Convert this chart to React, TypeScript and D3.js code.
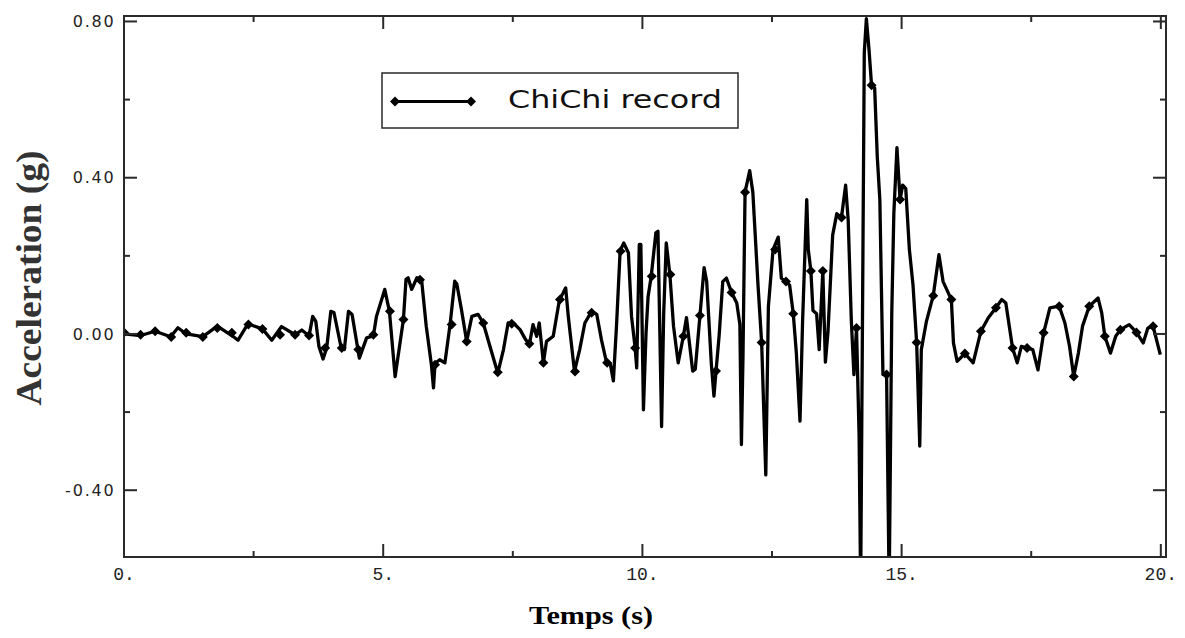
import React from "react";
import * as d3 from "d3";

const timeS = [
  0.0, 0.32, 0.6, 0.9, 1.04, 1.2, 1.52, 1.8, 2.08, 2.2, 2.39, 2.67, 2.85, 3.04, 3.3, 3.43, 3.57, 3.64, 3.7, 3.76,
  3.84, 3.91, 3.99, 4.05, 4.19, 4.25, 4.33, 4.4, 4.54, 4.68, 4.81, 4.87, 5.03, 5.12, 5.23, 5.39, 5.44, 5.48, 5.55,
  5.65, 5.74, 5.83, 5.93, 5.97, 6.0, 6.09, 6.19, 6.29, 6.38, 6.42, 6.51, 6.61, 6.71, 6.83, 6.93, 7.06, 7.21, 7.32,
  7.41, 7.51, 7.64, 7.75, 7.82, 7.89, 7.96, 8.01, 8.09, 8.15, 8.28, 8.4, 8.47, 8.52, 8.57, 8.69, 8.79, 8.89, 9.02,
  9.12, 9.21, 9.31, 9.38, 9.44, 9.5, 9.57, 9.64, 9.73, 9.79, 9.86, 9.89, 9.94, 9.97, 10.02, 10.07, 10.11, 10.17,
  10.26, 10.3, 10.37, 10.41, 10.46, 10.53, 10.6, 10.69, 10.79, 10.85, 10.97, 11.02, 11.11, 11.19, 11.24, 11.33,
  11.38, 11.42, 11.48, 11.55, 11.62, 11.72, 11.82, 11.88, 11.91, 11.94, 11.98, 12.07, 12.13, 12.23, 12.3, 12.38,
  12.43, 12.52, 12.62, 12.68, 12.77, 12.84, 12.91, 12.97, 13.04, 13.09, 13.17, 13.2, 13.25, 13.29, 13.36, 13.41,
  13.48, 13.53, 13.58, 13.67, 13.75, 13.84, 13.92, 13.97, 14.03, 14.08, 14.13, 14.18, 14.21, 14.28, 14.32, 14.37,
  14.42, 14.48, 14.53, 14.58, 14.64, 14.71, 14.76, 14.81, 14.85, 14.91, 14.97, 15.02, 15.08, 15.15, 15.22, 15.29,
  15.35, 15.38, 15.48, 15.61, 15.72, 15.8, 15.96, 16.0, 16.07, 16.22, 16.38, 16.53, 16.67, 16.82, 16.93, 17.01,
  17.14, 17.23, 17.31, 17.42, 17.53, 17.63, 17.74, 17.86, 18.04, 18.15, 18.24, 18.32, 18.41, 18.49, 18.62, 18.79,
  18.86, 18.92, 19.03, 19.13, 19.22, 19.39, 19.53, 19.66, 19.75, 19.85, 19.99,
];

const accelG = [
  0.0, -0.004, 0.007, -0.007, 0.016, 0.0, -0.007, 0.02, -0.004, -0.016, 0.026, 0.013, -0.016, 0.019, -0.002, 0.01,
  -0.005, 0.045, 0.032, -0.032, -0.064, -0.036, 0.058, 0.055, -0.036, -0.04, 0.058, 0.05, -0.062, -0.01, -0.005,
  0.045, 0.114, 0.058, -0.109, 0.037, 0.14, 0.144, 0.114, 0.144, 0.139, 0.02, -0.079, -0.138, -0.075, -0.066,
  -0.074, 0.024, 0.135, 0.128, 0.062, -0.019, 0.045, 0.05, 0.028, -0.032, -0.1, -0.04, 0.028, 0.028, 0.011,
  -0.015, -0.027, 0.024, -0.006, 0.028, -0.074, -0.019, -0.006, 0.088, 0.105, 0.118, 0.045, -0.096, -0.04, 0.028,
  0.058, 0.05, -0.015, -0.074, -0.076, -0.12, 0.02, 0.212, 0.233, 0.208, 0.045, -0.036, -0.087, 0.229, 0.229,
  -0.194, 0.003, 0.096, 0.148, 0.259, 0.263, -0.237, 0.05, 0.233, 0.152, 0.02, -0.074, -0.006, 0.042, -0.095,
  -0.09, 0.047, 0.17, 0.134, -0.077, -0.159, -0.095, -0.004, 0.134, 0.143, 0.106, 0.079, 0.024, -0.283, -0.058,
  0.363, 0.418, 0.363, 0.125, -0.022, -0.361, 0.07, 0.216, 0.248, 0.143, 0.134, 0.125, 0.052, -0.05, -0.223, 0.033,
  0.344, 0.216, 0.161, 0.06, 0.052, -0.04, 0.161, -0.072, 0.006, 0.253, 0.308, 0.298, 0.381, 0.29, 0.034, -0.104,
  0.015, -0.26, -0.65, 0.72, 0.807, 0.73, 0.637, 0.63, 0.455, 0.344, -0.104, -0.104, -0.65, 0.052, 0.308, 0.477,
  0.344, 0.381, 0.372, 0.216, 0.125, -0.022, -0.287, -0.04, 0.033, 0.098, 0.203, 0.134, 0.088, -0.023, -0.07,
  -0.05, -0.074, 0.007, 0.041, 0.067, 0.088, 0.079, -0.036, -0.074, -0.032, -0.036, -0.04, -0.092, 0.003, 0.067,
  0.071, 0.028, -0.032, -0.109, -0.049, 0.02, 0.071, 0.092, 0.054, -0.006, -0.049, -0.006, 0.011, 0.024, 0.004,
  -0.023, 0.015, 0.02, -0.053,
];

const markerT = [
  0.0, 0.32, 0.6, 0.91, 1.2, 1.52, 1.8, 2.08, 2.4, 2.67, 3.01, 3.3, 3.57, 3.88, 4.2, 4.52, 4.81, 5.13, 5.39, 5.71,
  6.0, 6.32, 6.61, 6.93, 7.21, 7.48, 7.82, 8.09, 8.41, 8.7, 9.02, 9.32, 9.58, 9.86, 10.18, 10.54, 10.79, 11.11,
  11.42, 11.72, 11.98, 12.3, 12.56, 12.77, 12.91, 13.25, 13.48, 13.84, 14.13, 14.42, 14.71, 14.97, 15.29, 15.61,
  15.96, 16.22, 16.53, 16.82, 17.14, 17.42, 17.74, 18.04, 18.32, 18.62, 18.92, 19.22, 19.53, 19.85,
];
const markerA = [
  0.004, -0.002, 0.007, -0.008, 0.003, -0.008, 0.015, 0.003, 0.024, 0.013, -0.002, -0.002, -0.004, -0.036, -0.036,
  -0.04, -0.002, 0.058, 0.037, 0.139, -0.079, 0.024, -0.019, 0.028, -0.098, 0.026, -0.025, -0.074, 0.088, -0.096,
  0.054, -0.074, 0.212, -0.036, 0.148, 0.152, -0.006, 0.047, -0.095, 0.106, 0.363, -0.022, 0.216, 0.134, 0.052,
  0.161, 0.161, 0.298, 0.015, 0.637, -0.104, 0.344, -0.022, 0.098, 0.088, -0.05, 0.007, 0.067, -0.036, -0.036,
  0.003, 0.071, -0.109, 0.071, -0.006, 0.011, 0.004, 0.02,
];

const xMajor = [0, 5, 10, 15, 20];
const xMajorLabels = ["0.", "5.", "10.", "15.", "20."];
const xMinor = [2.5, 7.5, 12.5, 17.5];
const yMajor = [0.8, 0.4, 0, -0.4];
const yMajorLabels = ["0.80", "0.40", "0.00", "-0.40"];
const yMinor = [0.6, 0.2, -0.2];

const seriesName = "ChiChi record";
const xTitle = "Temps (s)";
const yTitle = "Acceleration (g)";

const W = 1185;
const H = 638;
const L = 124;
const R = 1166;
const T = 16;
const B = 557;

const diamond = "M0,-5L5,0L0,5L-5,0Z";

export default function App() {
  const x = d3.scaleLinear().domain([0, 20.1]).range([L, R]);
  const y = d3.scaleLinear().domain([-0.571, 0.814]).range([B, T]);
  const pts: [number, number][] = timeS.map((t, i) => [t, accelG[i]]);
  const line = d3
    .line<[number, number]>()
    .x((d) => x(d[0]))
    .y((d) => y(d[1]));
  const frame = "#2a2a2a";
  const majLen = 13;
  const minLen = 6;

  return (
    <svg
      width={W}
      height={H}
      viewBox={`0 0 ${W} ${H}`}
      style={{ position: "absolute", left: 0, top: 0, background: "#fff" }}
    >
      <defs>
        <clipPath id="plotClip">
          <rect x={L} y={T} width={R - L} height={B - T} />
        </clipPath>
      </defs>
      <rect x={0} y={0} width={W} height={H} fill="#fff" />

      {/* data */}
      <g clipPath="url(#plotClip)">
        <path d={line(pts) || ""} fill="none" stroke="#000" strokeWidth={3.3} strokeLinejoin="round" />
        {markerT.map((t, i) => (
          <path key={i} d={diamond} transform={`translate(${x(t)},${y(markerA[i])})`} fill="#000" />
        ))}
      </g>

      {/* frame */}
      <rect x={L} y={T} width={R - L} height={B - T} fill="none" stroke={frame} strokeWidth={2} />

      {/* x ticks */}
      {xMajor.map((v) => (
        <g key={"xm" + v}>
          <line x1={x(v)} x2={x(v)} y1={B} y2={B - majLen} stroke={frame} strokeWidth={2} />
          <line x1={x(v)} x2={x(v)} y1={T} y2={T + majLen} stroke={frame} strokeWidth={2} />
        </g>
      ))}
      {xMinor.map((v) => (
        <g key={"xn" + v}>
          <line x1={x(v)} x2={x(v)} y1={B} y2={B - minLen} stroke={frame} strokeWidth={2} />
          <line x1={x(v)} x2={x(v)} y1={T} y2={T + minLen} stroke={frame} strokeWidth={2} />
        </g>
      ))}
      {xMajor.map((v, i) => (
        <text
          key={"xl" + v}
          x={x(v)}
          y={580}
          textAnchor="middle"
          fontFamily="'Liberation Mono', monospace"
          fontSize={18}
          fill="#222"
        >
          {xMajorLabels[i]}
        </text>
      ))}

      {/* y ticks */}
      {yMajor.map((v) => (
        <g key={"ym" + v}>
          <line x1={L} x2={L + majLen} y1={y(v)} y2={y(v)} stroke={frame} strokeWidth={2} />
          <line x1={R} x2={R - majLen} y1={y(v)} y2={y(v)} stroke={frame} strokeWidth={2} />
        </g>
      ))}
      {yMinor.map((v) => (
        <g key={"yn" + v}>
          <line x1={L} x2={L + minLen} y1={y(v)} y2={y(v)} stroke={frame} strokeWidth={2} />
          <line x1={R} x2={R - minLen} y1={y(v)} y2={y(v)} stroke={frame} strokeWidth={2} />
        </g>
      ))}
      {yMajor.map((v, i) => (
        <text
          key={"yl" + v}
          x={115.5}
          y={y(v)}
          dy="0.36em"
          textAnchor="end"
          fontFamily="'DejaVu Sans', sans-serif"
          fontSize={16}
          letterSpacing={1.8}
          fill="#222"
        >
          {yMajorLabels[i]}
        </text>
      ))}

      {/* legend */}
      <rect x={382} y={73} width={356} height={55} fill="#fff" stroke={frame} strokeWidth={1.5} />
      <line x1={393} x2={473} y1={101.5} y2={101.5} stroke="#000" strokeWidth={3} />
      <path d={diamond} transform="translate(395,101.5)" fill="#000" />
      <path d={diamond} transform="translate(471,101.5)" fill="#000" />
      <text
        x={508}
        y={108}
        fontFamily="'DejaVu Sans', sans-serif"
        fontSize={25}
        textLength={214}
        lengthAdjust="spacingAndGlyphs"
        fill="#111"
      >
        {seriesName}
      </text>

      {/* axis titles */}
      <text
        x={591}
        y={624}
        textAnchor="middle"
        fontFamily="'Liberation Serif', 'Times New Roman', serif"
        fontWeight="bold"
        fontSize={26}
        textLength={124}
        lengthAdjust="spacingAndGlyphs"
        fill="#000"
      >
        {xTitle}
      </text>
      <text
        transform="translate(41,278) scale(1.15,1) rotate(-90)"
        x={0}
        y={0}
        textAnchor="middle"
        fontFamily="'Liberation Serif', 'Times New Roman', serif"
        fontWeight="bold"
        fontSize={32}
        textLength={255}
        lengthAdjust="spacingAndGlyphs"
        fill="#333"
      >
        {yTitle}
      </text>
    </svg>
  );
}
